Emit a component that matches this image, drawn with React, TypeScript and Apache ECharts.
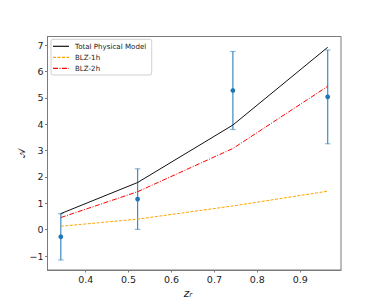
import React, { useEffect, useRef } from "react";
import * as echarts from "echarts";

const zr = [0.342, 0.521, 0.743, 0.964];
const observed = [-0.27, 1.16, 5.28, 5.04];
const observedErr = [0.88, 1.15, 1.48, 1.78];
const totalModel = [0.61, 1.79, 3.97, 6.92];
const blz1h = [0.13, 0.4, 0.9, 1.46];
const blz2h = [0.46, 1.44, 3.08, 5.44];
const yTicks = [-1, 0, 1, 2, 3, 4, 5, 6, 7];
const xTicks = [0.4, 0.5, 0.6, 0.7, 0.8, 0.9];
const legendNames = ["Total Physical Model", "BLZ-1h", "BLZ-2h"];

const FONT = "DejaVu Sans";
const SPINE = "#7a7a7a";
const COLORS = ["#111111", "#ffa500", "#ff0000"];
const DASHES: any[] = ["solid", [3, 1.5], [5, 1.5, 1, 1.5]];

export default function App() {
  const ref = useRef<HTMLDivElement>(null);
  useEffect(() => {
    if (!ref.current) return;
    const chart = echarts.init(ref.current, undefined, { renderer: "svg" });
    const pair = (ys: number[]) => zr.map((x, i) => [x, ys[i]]);
    const fmt = (v: number) => (v < 0 ? "\u2212" + Math.abs(v) : String(v));
    const legendGraphics: any[] = [
      { type: "rect", shape: { x: 51, y: 39.3, width: 100.7, height: 35.7, r: 2 }, style: { fill: "rgba(255,255,255,0.8)", stroke: "#d0d0d0", lineWidth: 1 }, z: 10 },
    ];
    legendNames.forEach((n, i) => {
      const cy = 46.3 + i * 11;
      legendGraphics.push({
        type: "line",
        shape: { x1: 53, y1: cy, x2: 69, y2: cy },
        style: { stroke: COLORS[i], lineWidth: 1.2, lineDash: DASHES[i] === "solid" ? null : DASHES[i] },
        z: 11,
      });
      legendGraphics.push({
        type: "text",
        x: 75,
        y: cy,
        style: { text: n, fontFamily: FONT, fontSize: 7.1, fill: "#222", align: "left", verticalAlign: "middle" },
        z: 11,
      });
    });
    chart.setOption({
      animation: false,
      backgroundColor: "#fff",
      textStyle: { fontFamily: FONT },
      grid: { left: 47.5, top: 36.5, right: 38, bottom: 34, show: true, borderColor: SPINE, borderWidth: 1, containLabel: false },
      xAxis: {
        type: "value",
        min: 0.311,
        max: 0.995,
        axisLine: { show: true, onZero: false, lineStyle: { color: SPINE } },
        axisTick: { show: true, length: 2.5, lineStyle: { color: SPINE }, customValues: xTicks },
        axisLabel: { fontFamily: FONT, fontSize: 9.5, color: "#222", margin: 4, customValues: xTicks, formatter: (v: number) => v.toFixed(1) },
        splitLine: { show: false },
      },
      yAxis: {
        type: "value",
        min: -1.53,
        max: 7.33,
        axisLine: { show: true, onZero: false, lineStyle: { color: SPINE } },
        axisTick: { show: true, length: 2.5, lineStyle: { color: SPINE }, customValues: yTicks },
        axisLabel: { fontFamily: FONT, fontSize: 9.5, color: "#222", margin: 4, customValues: yTicks, formatter: fmt },
        splitLine: { show: false },
      },
      graphic: [
        { type: "text", x: 188, y: 292.5, style: { text: "{i|z}{s|r}", rich: { i: { fontFamily: FONT, fontStyle: "italic", fontSize: 10.5, fill: "#222" }, s: { fontFamily: FONT, fontStyle: "italic", fontSize: 7, fill: "#222", padding: [5, 0, 0, 0] } }, align: "center", verticalAlign: "middle" } },
        { type: "text", x: 21.5, y: 153, rotation: Math.PI / 2, style: { text: "\u{1D49C}", fontFamily: "DejaVu Sans", fontSize: 10, fill: "#222", align: "center", verticalAlign: "middle" } },
        ...legendGraphics,
      ],
      series: [
        { name: legendNames[0], type: "line", data: pair(totalModel), symbol: "none", lineStyle: { color: COLORS[0], width: 1 } },
        { name: legendNames[1], type: "line", data: pair(blz1h), symbol: "none", lineStyle: { color: COLORS[1], width: 1, type: DASHES[1] } },
        { name: legendNames[2], type: "line", data: pair(blz2h), symbol: "none", lineStyle: { color: COLORS[2], width: 1, type: DASHES[2] } },
        {
          name: "obs",
          type: "custom",
          data: zr.map((x, i) => [x, observed[i], observedErr[i]]),
          renderItem: (_p: any, api: any) => {
            const x = api.value(0);
            const y = api.value(1);
            const e = api.value(2);
            const top = api.coord([x, y + e]);
            const bot = api.coord([x, y - e]);
            const c = api.coord([x, y]);
            const cw = 2.8;
            return {
              type: "group",
              children: [
                { type: "line", shape: { x1: top[0], y1: top[1], x2: bot[0], y2: bot[1] }, style: { stroke: "#1f77b4", lineWidth: 1.2, opacity: 0.85 } },
                { type: "line", shape: { x1: top[0] - cw, y1: top[1], x2: top[0] + cw, y2: top[1] }, style: { stroke: "#1f77b4", lineWidth: 1.2, opacity: 0.5 } },
                { type: "line", shape: { x1: bot[0] - cw, y1: bot[1], x2: bot[0] + cw, y2: bot[1] }, style: { stroke: "#1f77b4", lineWidth: 1.2, opacity: 0.5 } },
                { type: "circle", shape: { cx: c[0], cy: c[1], r: 2.4 }, style: { fill: "#1f77b4" } },
              ],
            };
          },
          z: 3,
        },
      ],
    });
    return () => chart.dispose();
  }, []);
  return <div ref={ref} style={{ width: 379, height: 304, position: "fixed", left: 0, top: 0 }} />;
}
